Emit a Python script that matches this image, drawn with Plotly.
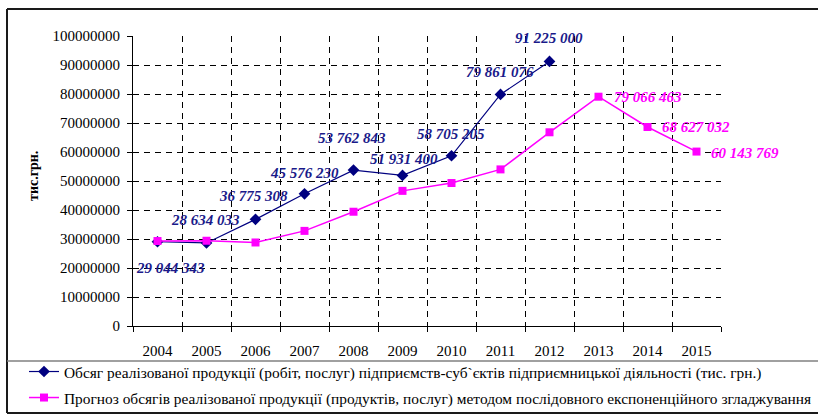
import plotly.graph_objects as go

years = ["2004", "2005", "2006", "2007", "2008", "2009", "2010", "2011", "2012", "2013", "2014", "2015"]
actual_years = years[:9]
actual_values = [29044343, 28634033, 36775308, 45576230, 53762843, 51931400, 58705205, 79861076, 91225000]
forecast_values = [29300000, 29400000, 28800000, 32800000, 39400000, 46600000, 49300000, 54000000, 66800000,
                   79066463, 68627032, 60143769]
labeled_forecast_years = ["2013", "2014", "2015"]
labeled_forecast_values = [79066463, 68627032, 60143769]

series1_name = "Обсяг реалізованої продукції (робіт, послуг) підприємств-суб`єктів підприємницької діяльності (тис. грн.)"
series2_name = "Прогноз обсягів реалізованої продукції (продуктів, послуг) методом послідовного експоненційного згладжування"
y_title = "тис.грн."

# style: label offsets (px)
navy_dx = [13, -1, -2, 0, -2, 1, -1, -1, -1]
navy_dy = [-26, 23, 23, 21, 32, 16, 22, 22, 23]
mag_dx = [13, 12, 12]
mag_dy = [0, 0, -1]

NAVY = "#000080"
MAG = "#FF00FF"
FONT = "Liberation Serif"

W, H = 818, 415
L, R, T, B = 133, 721, 36, 326

def fmt(v):
    return f"{v:,}".replace(",", " ")

fig = go.Figure()
fig.add_trace(go.Scatter(
    x=actual_years, y=actual_values, name=series1_name, mode="lines+markers",
    line=dict(color=NAVY, width=1.2), marker=dict(symbol="diamond", size=9, color=NAVY),
    legendgroup="a"))
fig.add_trace(go.Scatter(
    x=years, y=forecast_values, name=series2_name, mode="lines+markers",
    line=dict(color=MAG, width=1.5), marker=dict(symbol="square", size=8, color=MAG),
    legendgroup="b"))

for x, v, dx, dy in zip(actual_years, actual_values, navy_dx, navy_dy):
    fig.add_annotation(x=years.index(x), y=v, xref="x", yref="y", text=fmt(v), showarrow=False,
                       xshift=dx, yshift=dy, xanchor="center", yanchor="middle",
                       font=dict(family=FONT, size=15, color="#1a1a8a", weight="bold", style="italic"))
for x, v, dx, dy in zip(labeled_forecast_years, labeled_forecast_values, mag_dx, mag_dy):
    fig.add_annotation(x=years.index(x), y=v, xref="x", yref="y", text=fmt(v), showarrow=False,
                       xshift=dx, yshift=dy, xanchor="left", yanchor="middle",
                       font=dict(family=FONT, size=15, color=MAG, weight="bold", style="italic"))

def px_x(p):
    return (p - L) / (R - L)

def px_y(p):
    return (B - p) / (B - T)

fig.add_annotation(x=px_x(33), y=px_y(176), xref="paper", yref="paper", text=y_title,
                   textangle=-90, showarrow=False, xanchor="center", yanchor="middle",
                   font=dict(family=FONT, size=14, color="black", weight="bold"))

# chart frame
line_black = dict(color="#1a1a1a", width=2)
fig.add_shape(type="line", xref="paper", yref="paper", x0=px_x(7), x1=px_x(830), y0=px_y(9), y1=px_y(9), line=line_black)
fig.add_shape(type="line", xref="paper", yref="paper", x0=px_x(7), x1=px_x(7), y0=px_y(9), y1=px_y(413), line=line_black)
fig.add_shape(type="line", xref="paper", yref="paper", x0=px_x(7), x1=px_x(830), y0=px_y(413), y1=px_y(413), line=line_black)
fig.add_shape(type="line", xref="paper", yref="paper", x0=px_x(7), x1=px_x(830), y0=px_y(361), y1=px_y(361),
              line=dict(color="#808080", width=1.5))

fig.update_layout(
    width=W, height=H,
    margin=dict(l=L, r=W - R, t=T, b=H - B, autoexpand=False),
    paper_bgcolor="white", plot_bgcolor="white",
    font=dict(family=FONT, color="black", size=15),
    showlegend=True,
    legend=dict(x=px_x(24), y=px_y(355), xanchor="left", yanchor="top",
                font=dict(family=FONT, size=15.4, color="black"),
                bgcolor="rgba(0,0,0,0)", tracegroupgap=3, itemwidth=30),
    xaxis=dict(type="category", range=[-0.5, 11.5], tickson="boundaries",
               showline=True, linecolor="black", linewidth=1,
               ticks="outside", ticklen=5, tickcolor="black",
               showgrid=True, gridcolor="black", gridwidth=1, griddash="6px,5px",
               tickfont=dict(family=FONT, size=15, color="black"), ticklabelstandoff=11),
    yaxis=dict(range=[0, 100000000], dtick=10000000, tickformat="d",
               showline=True, linecolor="black", linewidth=1,
               ticks="outside", ticklen=5, tickcolor="black",
               showgrid=True, gridcolor="black", gridwidth=1, griddash="6px,5px",
               zeroline=False,
               tickfont=dict(family=FONT, size=15, color="black"), ticklabelstandoff=4),
)

fig.write_html("out.html", config={"displayModeBar": False},
               post_script="document.body.style.margin='0px';")
